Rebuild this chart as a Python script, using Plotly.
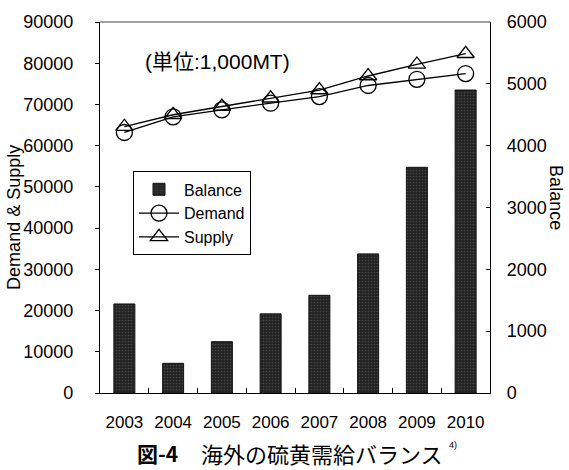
import plotly.graph_objects as go

# Overseas sulfur supply/demand balance (unit: 1,000 MT)
years = ["2003", "2004", "2005", "2006", "2007", "2008", "2009", "2010"]
balance = [1440, 480, 830, 1280, 1580, 2250, 3650, 4900]
demand = [63200, 67000, 68700, 70300, 71900, 74600, 76100, 77500]
supply = [64600, 67500, 69500, 71500, 73500, 76900, 79700, 82300]

left_ticks = [0, 10000, 20000, 30000, 40000, 50000, 60000, 70000, 80000, 90000]
right_ticks = [0, 1000, 2000, 3000, 4000, 5000, 6000]

W, H = 569, 470
L, R, T, B = 100, 79, 18, 77
pw, ph = W - L - R, H - T - B


def px(x):
    return (x - L) / pw


def py(y):
    return (H - B - y) / ph


FONT = "Liberation Sans, Arial, Noto Sans CJK JP, sans-serif"
CJK = "Noto Sans CJK JP, sans-serif"

fig = go.Figure()

fig.add_trace(go.Bar(
    x=years, y=balance, name="Balance", yaxis="y2",
    width=0.43,
    marker=dict(
        color="#262626",
        line=dict(color="#111111", width=1),
        pattern=dict(shape=".", fgcolor="#6a6a6a", bgcolor="#222222",
                     size=3, solidity=0.25),
    ),
))

fig.add_trace(go.Scatter(
    x=years, y=demand, name="Demand", mode="lines+markers",
    line=dict(color="black", width=1.3),
    marker=dict(symbol="circle-open", size=16, color="black",
                line=dict(color="black", width=1.3)),
))

fig.add_trace(go.Scatter(
    x=years, y=supply, name="Supply", mode="lines+markers",
    line=dict(color="black", width=1.3),
    marker=dict(symbol="triangle-up-open", size=15, color="black",
                line=dict(color="black", width=1.3)),
))


def note(text, x, y, size, family=FONT, angle=0):
    return dict(text=text, x=px(x), y=py(y), xref="paper", yref="paper",
                xanchor="center", yanchor="middle", showarrow=False,
                textangle=angle, font=dict(family=family, size=size, color="black"))


fig.update_layout(
    width=W, height=H,
    margin=dict(l=L, r=R, t=T, b=B, pad=0),
    paper_bgcolor="white", plot_bgcolor="white",
    font=dict(family=FONT, size=17, color="black"),
    showlegend=True,
    legend=dict(
        x=px(133), y=py(169), xanchor="left", yanchor="top",
        bgcolor="white", bordercolor="black", borderwidth=1,
        font=dict(family=FONT, size=16, color="black"),
        itemwidth=40, tracegroupgap=0,
    ),
    xaxis=dict(
        type="category", range=[-0.5, 7.5],
        showline=True, linecolor="black", linewidth=1.3,
        ticks="inside", ticklen=5, tickcolor="black",
        tickson="boundaries",
        showgrid=False, zeroline=False,
        ticklabelstandoff=13,
        tickfont=dict(family=FONT, size=17),
    ),
    yaxis=dict(
        range=[0, 90000], tickvals=left_ticks, tickformat="d",
        showline=True, linecolor="black", linewidth=1.3,
        ticks="outside", ticklen=4, tickcolor="black",
        showgrid=False, zeroline=False,
        ticklabelstandoff=18,
        tickfont=dict(family=FONT, size=18),
    ),
    yaxis2=dict(
        range=[0, 6000], tickvals=right_ticks, tickformat="d",
        overlaying="y", side="right",
        showline=True, linecolor="black", linewidth=1.3,
        ticks="inside", ticklen=4, tickcolor="black",
        showgrid=False, zeroline=False,
        ticklabelstandoff=12,
        tickfont=dict(family=FONT, size=18),
    ),
    shapes=[
        dict(type="line", xref="paper", yref="paper", x0=0, x1=1, y0=1, y1=1,
             line=dict(color="#444444", width=1)),
    ],
    annotations=[
        note("(単位:1,000MT)", 217, 58, 21),
        note("Demand & Supply", 14, 216, 18, angle=-90),
        note("Balance", 556, 195, 18, angle=90),
        note("<b>図-4</b>", 157, 454, 21, family=CJK),
        note("海外の硫黄需給バランス", 322, 454, 22, family=CJK),
        note("4)", 453, 446, 9),
    ],
)

fig.write_html("out.html")
